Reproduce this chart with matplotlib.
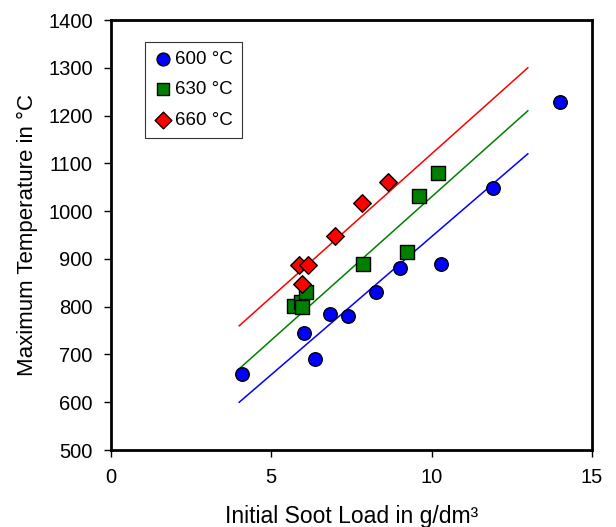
import matplotlib
matplotlib.use('Agg')
import matplotlib.pyplot as plt

plt.rcParams['font.family'] = ['Liberation Sans', 'DejaVu Sans']

soot_600 = [4.1, 6.03, 6.36, 6.82, 7.4, 8.28, 9.0, 10.3, 11.9, 14.0]
temp_600 = [660, 745, 690, 785, 780, 830, 880, 890, 1048, 1228]

soot_630 = [5.7, 5.93, 5.95, 6.08, 7.86, 9.22, 9.6, 10.2]
temp_630 = [802, 810, 800, 830, 890, 915, 1032, 1080]

soot_660 = [5.85, 6.14, 5.95, 6.98, 7.84, 8.63]
temp_660 = [888, 888, 847, 948, 1018, 1062]

# trend lines
fit_x = [4, 13]
fit_600 = [600, 1120]
fit_630 = [670, 1210]
fit_660 = [760, 1300]

fig = plt.figure(figsize=(6.16, 5.27), dpi=100)
ax = fig.add_axes([0.180, 0.146, 0.781, 0.816])

ax.plot(fit_x, fit_600, color='blue', lw=1.1, zorder=1)
ax.plot(fit_x, fit_630, color='green', lw=1.1, zorder=1)
ax.plot(fit_x, fit_660, color='red', lw=1.1, zorder=1)

ax.scatter(soot_600, temp_600, s=95, marker='o', c='blue', edgecolors='black', linewidths=1.0, zorder=3, label='600 °C')
ax.scatter(soot_630, temp_630, s=95, marker='s', c='green', edgecolors='black', linewidths=1.0, zorder=3, label='630 °C')
ax.scatter(soot_660, temp_660, s=80, marker='D', c='red', edgecolors='black', linewidths=1.0, zorder=4, label='660 °C')

ax.set_xlim(0, 15)
ax.set_ylim(500, 1400)
ax.set_xticks([0, 5, 10, 15])
ax.set_yticks(range(500, 1401, 100))
ax.tick_params(direction='out', length=5, width=1, pad=8, labelsize=14.5, top=False, right=False)
for sp in ax.spines.values():
    sp.set_linewidth(2)
    sp.set_color('black')

ax.set_xlabel('Initial Soot Load in g/dm³', fontsize=16.5, labelpad=13)
ax.set_ylabel('Maximum Temperature in °C', fontsize=16, labelpad=7)

leg = ax.legend(loc='upper left', bbox_to_anchor=(0.07, 0.95), fontsize=13.5, frameon=True,
                fancybox=False, edgecolor='black', markerscale=0.95, handletextpad=0.1,
                handlelength=1.0, borderpad=0.5, labelspacing=0.7, borderaxespad=0)
leg.get_frame().set_linewidth(0.8)

fig.savefig('out.png', dpi=100)
